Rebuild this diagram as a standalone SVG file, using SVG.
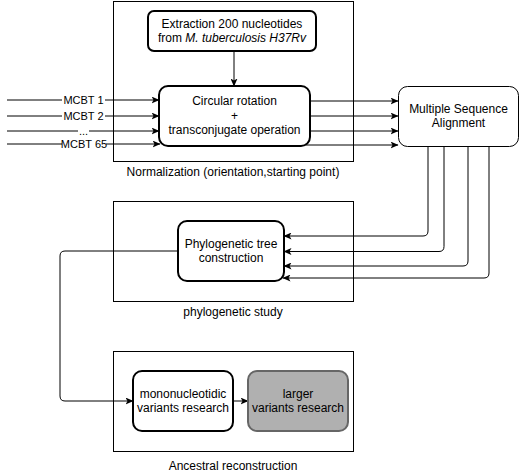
<svg xmlns="http://www.w3.org/2000/svg" width="520" height="473" viewBox="0 0 520 473">
<defs>
<marker id="arr" viewBox="0 0 8 7" refX="7.5" refY="3.5" markerWidth="8" markerHeight="7" markerUnits="userSpaceOnUse" orient="auto">
<path d="M0,0 L8,3.5 L0,7 L2,3.5 Z" fill="#000"/>
</marker>
<style>
text{font-family:"Liberation Sans",Arial,sans-serif;font-size:12px;fill:#000;text-anchor:middle}
.lbl{font-size:11px}
.cont{fill:#fff;stroke:#000;stroke-width:1}
.box{fill:#fff;stroke:#000;stroke-width:2}
.thin{fill:#fff;stroke:#000;stroke-width:1}
.grey{fill:#b0b0b0;stroke:#666;stroke-width:2}
.edge{fill:none;stroke:#000;stroke-width:1;marker-end:url(#arr)}
</style>
</defs>
<rect width="520" height="473" fill="#fff"/>
<g id="normalization">
<rect class="cont" x="113.5" y="1.5" width="240" height="160"/>
<text x="233" y="176">Normalization (orientation,starting point)</text>
</g>
<g id="phylogenetic-study">
<rect class="cont" x="113.5" y="201.5" width="240" height="100"/>
<text x="233" y="316">phylogenetic study</text>
</g>
<g id="ancestral">
<rect class="cont" x="113.5" y="351.5" width="240" height="100"/>
<text x="233" y="469.5">Ancestral reconstruction</text>
</g>
<g id="connectors">
<path class="edge" d="M234,52 V86"/>
<path class="edge" d="M7,100 H159"/>
<path class="edge" d="M7,116 H159"/>
<path class="edge" d="M7,131 H159"/>
<path class="edge" d="M7,144 H160"/>
<path class="edge" d="M310,101 H398"/>
<path class="edge" d="M310,116 H398"/>
<path class="edge" d="M310,131 H398"/>
<path class="edge" d="M306,145 H398"/>
<path class="edge" d="M428,146 V231 Q428,236 423,236 H284"/>
<path class="edge" d="M444,146 V246.5 Q444,251.5 439,251.5 H284"/>
<path class="edge" d="M468,146 V261 Q468,266 463,266 H284"/>
<path class="edge" d="M489,146 V273 Q489,278 484,278 H283"/>
<path class="edge" d="M178,251 H65 Q60,251 60,256 V396 Q60,401 65,401 H133"/>
<path class="edge" d="M233,401 H248"/>
<rect x="62" y="93" width="43" height="14" fill="#fff"/>
<text class="lbl" x="83.5" y="104">MCBT 1</text>
<rect x="62" y="109" width="43" height="14" fill="#fff"/>
<text class="lbl" x="83.5" y="120">MCBT 2</text>
<rect x="78" y="126" width="11" height="10" fill="#fff"/>
<text class="lbl" x="83.5" y="135">...</text>
<rect x="62" y="139" width="44" height="10" fill="#fff"/>
<text class="lbl" x="84" y="148">MCBT 65</text>
</g>
<g id="extraction">
<rect class="box" x="148" y="11" width="168" height="40" rx="6"/>
<text x="232" y="27.5">Extraction 200 nucleotides</text>
<text x="232" y="42">from <tspan font-style="italic">M. tuberculosis H37Rv</tspan></text>
</g>
<g id="circular">
<rect class="box" x="159" y="86" width="151" height="60" rx="9"/>
<text x="234.5" y="105">Circular rotation</text>
<text x="234.5" y="119.5">+</text>
<text x="234.5" y="134">transconjugate operation</text>
</g>
<g id="msa">
<rect class="thin" x="398.5" y="86.5" width="120" height="60" rx="9"/>
<text x="458.5" y="113">Multiple Sequence</text>
<text x="458.5" y="127">Alignment</text>
</g>
<g id="phylo">
<rect class="box" x="178" y="221" width="106" height="60" rx="9"/>
<text x="231" y="247.5">Phylogenetic tree</text>
<text x="231" y="261.5">construction</text>
</g>
<g id="mono">
<rect class="box" x="133" y="371" width="100" height="60" rx="9"/>
<text x="183" y="398">mononucleotidic</text>
<text x="183" y="412">variants research</text>
</g>
<g id="larger">
<rect class="grey" x="248" y="371" width="100" height="60" rx="9"/>
<text x="298" y="398">larger</text>
<text x="298" y="412">variants research</text>
</g>
</svg>
